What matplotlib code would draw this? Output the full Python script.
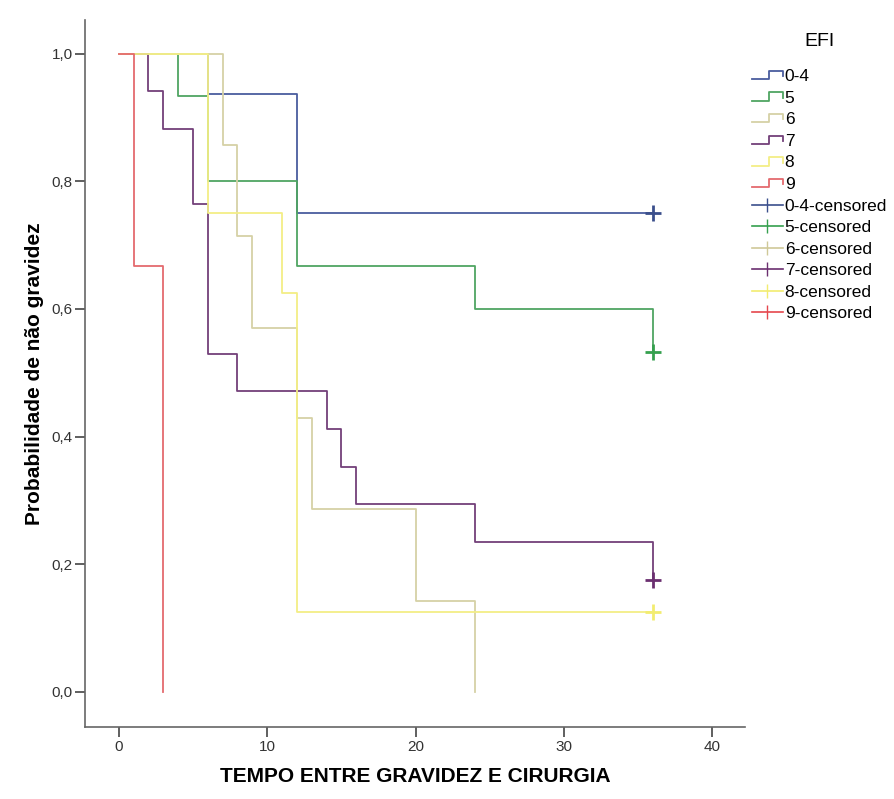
"""
Curvas de Kaplan-Meier por EFI
"""

import matplotlib
matplotlib.use('Agg')
import matplotlib.pyplot as plt
from matplotlib.lines import Line2D
from matplotlib.legend_handler import HandlerBase
from matplotlib.ticker import FuncFormatter

plt.rcParams['font.family'] = ['Liberation Sans', 'DejaVu Sans']

# grupos EFI
grupos = ['0-4', '5', '6', '7', '8', '9']
cores = ['#4a5d9e', '#4fa562', '#d6d1a6', '#73407a', '#f3ee86', '#e46a6e']
cores_cens = ['#3b4f8c', '#35a04e', '#cfc898', '#6b2f70', '#f2ec70', '#e5474d']

# tempos (meses) e probabilidade acumulada
tempos = [
    [0, 6, 12, 36],
    [0, 4, 6, 12, 24, 36],
    [0, 7, 8, 9, 12, 13, 20, 24],
    [0, 2, 3, 5, 6, 8, 14, 15, 16, 24, 36],
    [0, 6, 11, 12, 36],
    [0, 1, 3],
]
sobrevida = [
    [1.0, 0.9375, 0.75, 0.75],
    [1.0, 0.933, 0.80, 0.667, 0.60, 0.533],
    [1.0, 0.857, 0.714, 0.571, 0.429, 0.286, 0.143, 0.0],
    [1.0, 0.941, 0.882, 0.765, 0.529, 0.471, 0.412, 0.353, 0.294, 0.235, 0.176],
    [1.0, 0.75, 0.625, 0.125, 0.125],
    [1.0, 0.667, 0.0],
]

# observações censuradas
cens_grupo = [0, 1, 3, 4]
cens_t = [36, 36, 36, 36]
cens_s = [0.75, 0.533, 0.176, 0.125]


class HandlerDegrau(HandlerBase):
    """Desenha um pequeno degrau na legenda"""

    def create_artists(self, legend, orig_handle, xdescent, ydescent,
                       width, height, fontsize, trans):
        x0 = -xdescent
        y0 = -ydescent
        xs = [x0, x0 + width * 0.55, x0 + width * 0.55, x0 + width, x0 + width]
        ys = [y0 + height * 0.15, y0 + height * 0.15, y0 + height * 0.85,
              y0 + height * 0.85, y0 + height * 0.4]
        linha = Line2D(xs, ys, color=orig_handle.get_color(),
                       linewidth=orig_handle.get_linewidth(), transform=trans)
        return [linha]


fig = plt.figure(figsize=(8.95, 7.99), dpi=100)
ax = fig.add_axes([0.0955, 0.0901, 0.737, 0.885])

linhas = []
for i, g in enumerate(grupos):
    l, = ax.step(tempos[i], sobrevida[i], where='post', color=cores[i],
                 linewidth=1.3)
    linhas.append(l)

for k, i in enumerate(cens_grupo):
    ax.plot(cens_t[k], cens_s[k], marker='+', markersize=11,
            markeredgewidth=2, color=cores_cens[i], linestyle='none')

ax.set_xlim(-2.24, 42.2)
ax.set_ylim(-0.055, 1.053)
ax.set_xticks([0, 10, 20, 30, 40])
ax.set_yticks([0.0, 0.2, 0.4, 0.6, 0.8, 1.0])
ax.yaxis.set_major_formatter(FuncFormatter(lambda v, p: f'{v:.1f}'.replace('.', ',')))

for lado in ['top', 'right']:
    ax.spines[lado].set_visible(False)
for lado in ['left', 'bottom']:
    ax.spines[lado].set_color('#666666')
    ax.spines[lado].set_linewidth(1.2)
ax.tick_params(axis='both', direction='out', length=7, width=1.2,
               color='#444444', labelsize=11, labelcolor='#333333', pad=2)

ax.set_xlabel('TEMPO ENTRE GRAVIDEZ E CIRURGIA', fontsize=15,
              fontweight='bold', labelpad=10)
ax.set_ylabel('Probabilidade de não gravidez', fontsize=15,
              fontweight='bold', labelpad=6)

# legenda
handles = list(linhas)
labels = list(grupos)
for i, g in enumerate(grupos):
    handles.append(Line2D([], [], color=cores_cens[i], marker='|',
                          markersize=10, linewidth=1.2))
    labels.append(f'{g}-censored')

hmap = {l: HandlerDegrau() for l in linhas}
leg = fig.legend(handles, labels, loc='upper left',
                 bbox_to_anchor=(0.836, 0.918), frameon=False,
                 fontsize=12.5, handlelength=1.8, handletextpad=0.1,
                 labelspacing=0.37, numpoints=1, handler_map=hmap,
                 borderaxespad=0, borderpad=0.2)
fig.text(820 / 895, 1 - 42 / 799, 'EFI', fontsize=14, ha='center', va='center')

fig.savefig('out.png', dpi=100)
